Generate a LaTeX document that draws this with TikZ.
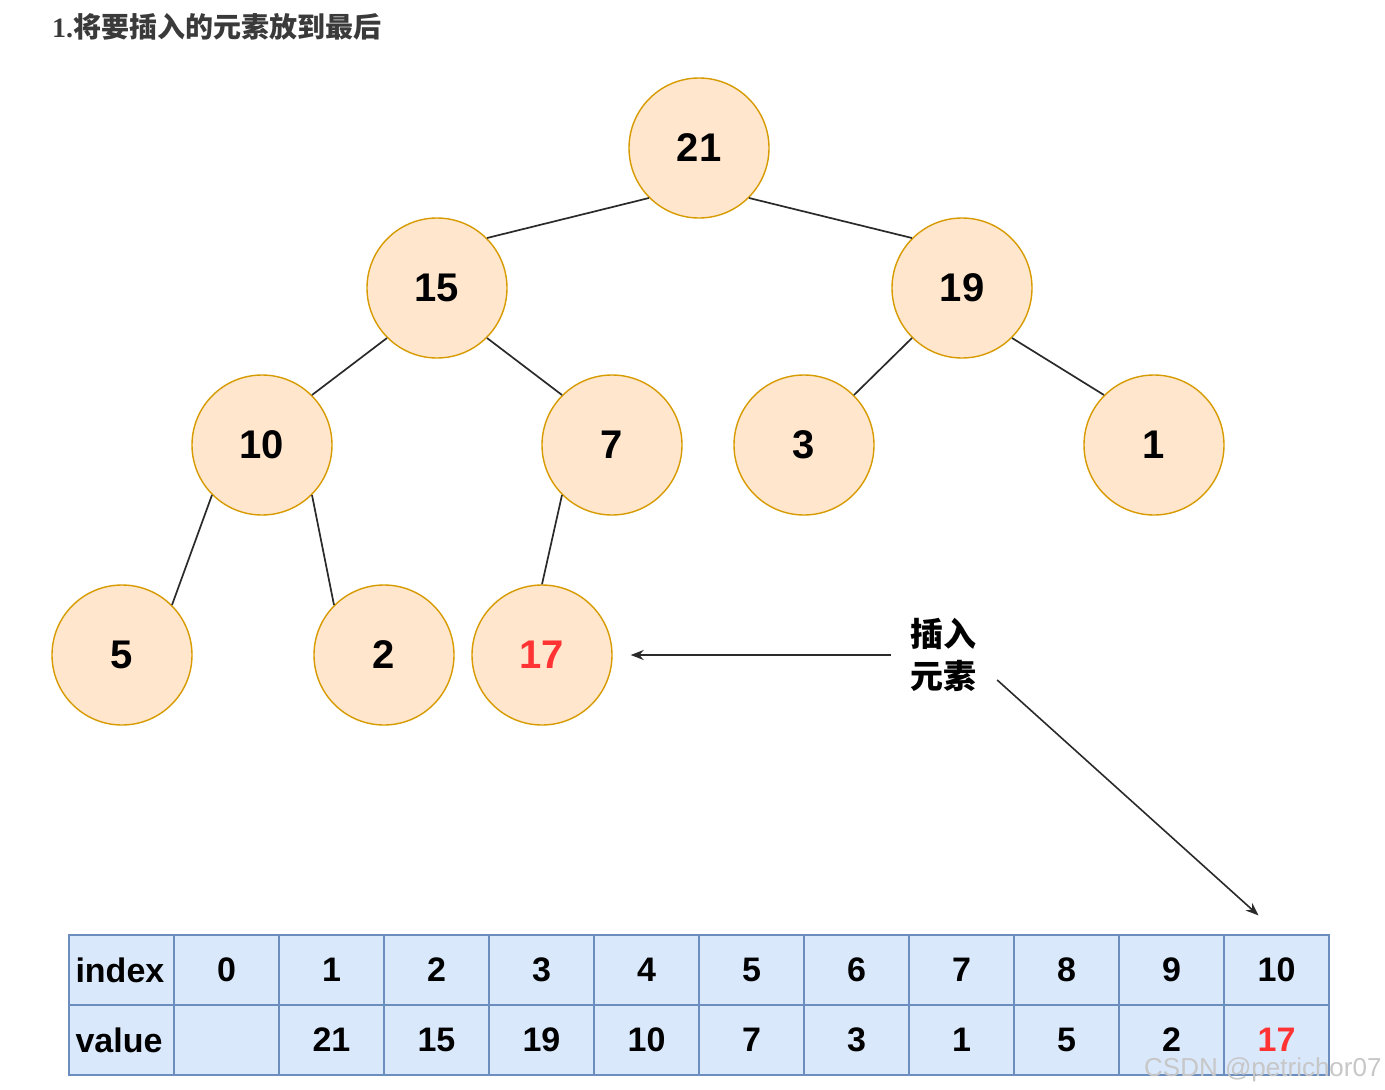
\documentclass[tikz,border=0pt]{standalone}
\usepackage{fontspec}
\setmainfont{Liberation Sans}
\newfontfamily\cjk{Noto Sans CJK SC}
\newfontfamily\titleserif{Liberation Serif}
\usetikzlibrary{arrows.meta,positioning}
\definecolor{HeapFill}{HTML}{FFE6CC}
\definecolor{HeapLine}{HTML}{D79B00}
\definecolor{CellFill}{HTML}{DAE8FC}
\definecolor{CellLine}{HTML}{6C8EBF}
\definecolor{NewRed}{HTML}{FF3333}
\definecolor{LinkGray}{HTML}{2A2A2A}
\definecolor{TitleGray}{HTML}{3A3A3A}

\begin{document}
\begin{tikzpicture}[x=1pt,y=-1pt,
  heap/.style={circle,draw=HeapLine,fill=HeapFill,line width=1.4pt,minimum size=140pt,
               inner sep=0pt,font=\fontsize{40}{40}\selectfont\bfseries},
  cell/.style={rectangle,draw=CellLine,fill=CellFill,line width=1.2pt,minimum width=105pt,
               minimum height=70pt,inner sep=0pt,font=\fontsize{34}{34}\selectfont\bfseries},
  link/.style={line width=1.7pt,LinkGray},
  arr/.style={-{Stealth[length=13pt,width=10pt]},line width=1.6pt,LinkGray},
]
\useasboundingbox (0,0) rectangle (1385,1090);
\node[anchor=base west,inner sep=0pt,text=TitleGray,font=\fontsize{28}{28}\selectfont] (title) at (52,37)
  {\titleserif\bfseries 1.\cjk\bfseries 将要插入的元素放到最后};
% heap
\node[heap] (n21) at (699,148) {21};
\node[heap] (n15) at (437,288) {15};
\node[heap] (n19) at (962,288) {19};
\node[heap] (n10) at (262,445) {10};
\node[heap] (n7) at (612,445) {7};
\node[heap] (n3) at (804,445) {3};
\node[heap] (n1) at (1154,445) {1};
\node[heap] (n5) at (122,655) {5};
\node[heap] (n2) at (384,655) {2};
\node[heap,text=NewRed] (n17) at (542,655) {17};
\draw[link] (n21.south west) -- (n15.north east);
\draw[link] (n21.south east) -- (n19.north west);
\draw[link] (n15.south west) -- (n10.north east);
\draw[link] (n15.south east) -- (n7.north west);
\draw[link] (n19.south west) -- (n3.north east);
\draw[link] (n19.south east) -- (n1.north west);
\draw[link] (n10.south west) -- (n5.north east);
\draw[link] (n10.south east) -- (n2.north west);
\draw[link] (n7.south west) -- (n17.north);
% array
\node[cell,text width=92pt,align=left] (idxhead) at (121.5,970) {index};
\node[cell,text width=92pt,align=left] (valhead) at (121.5,1040) {value};
\foreach \i/\v in {0/,1/21,2/15,3/19,4/10,5/7,6/3,7/1,8/5,9/2}{
  \node[cell] (idx\i) at ({226.5+105*\i},970) {\i};
  \node[cell] (val\i) at ({226.5+105*\i},1040) {\v};
}
\node[cell] (idx10) at (1276.5,970) {10};
\node[cell,text=NewRed] (val10) at (1276.5,1040) {17};
% label
\node[inner sep=0pt,align=left,font=\cjk\bfseries\fontsize{33}{42}\selectfont] (lbl) at (943,655)
  {插入\\元素};
\draw[arr] ([xshift=-19pt]lbl.west) -- ([xshift=18pt]n17.east);
\draw[arr] ([xshift=21pt,yshift=-25pt]lbl.east) -- ([xshift=-18pt,yshift=19pt]idx10.north);
\node[anchor=base west,inner sep=0pt,text=black!22,font=\fontsize{26}{26}\selectfont] (mark) at (1144,1076)
  {CSDN @petrichor07};
\end{tikzpicture}
\end{document}
